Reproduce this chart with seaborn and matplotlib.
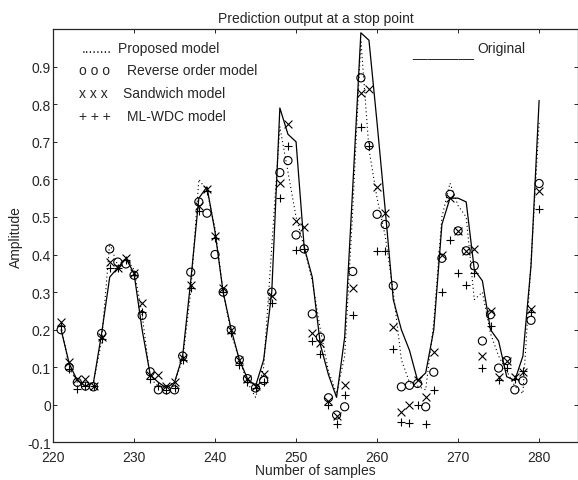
import numpy as np
import pandas as pd
import seaborn as sns
import matplotlib.pyplot as plt

# samples 221..280
samples = list(range(221, 281))

original = [0.20, 0.11, 0.065, 0.05, 0.06, 0.19, 0.34, 0.365, 0.39, 0.35,
            0.20, 0.08, 0.06, 0.045, 0.06, 0.13, 0.33, 0.55, 0.58, 0.46,
            0.30, 0.20, 0.12, 0.07, 0.05, 0.12, 0.30, 0.79, 0.72, 0.70,
            0.42, 0.34, 0.16, 0.08, 0.02, 0.18, 0.58, 0.99, 0.97, 0.75,
            0.52, 0.28, 0.20, 0.145, 0.065, 0.085, 0.20, 0.48, 0.55, 0.55,
            0.54, 0.36, 0.33, 0.20, 0.17, 0.075, 0.065, 0.13, 0.37, 0.81]

proposed = [0.21, 0.10, 0.06, 0.05, 0.06, 0.17, 0.43, 0.37, 0.39, 0.36,
            0.24, 0.07, 0.05, 0.05, 0.06, 0.12, 0.30, 0.60, 0.57, 0.47,
            0.30, 0.19, 0.12, 0.06, 0.02, 0.10, 0.42, 0.74, 0.62, 0.50,
            0.42, 0.33, 0.20, 0.09, 0.03, 0.13, 0.52, 0.97, 0.68, 0.55,
            0.45, 0.30, 0.12, 0.06, 0.05, 0.04, 0.22, 0.50, 0.59, 0.53,
            0.50, 0.28, 0.30, 0.19, 0.13, 0.09, 0.05, 0.03, 0.38, 0.75]

reverse_order = [0.20, 0.10, 0.06, 0.05, 0.048, 0.19, 0.415, 0.38, 0.375, 0.345,
                 0.238, 0.088, 0.04, 0.04, 0.04, 0.13, 0.353, 0.54, 0.51, 0.40,
                 0.30, 0.20, 0.12, 0.07, 0.045, 0.065, 0.30, 0.618, 0.65, 0.452,
                 0.415, 0.242, 0.18, 0.019, -0.027, -0.005, 0.355, 0.87, 0.69, 0.507,
                 0.48, 0.317, 0.048, 0.052, 0.057, -0.005, 0.087, 0.39, 0.56, 0.463,
                 0.41, 0.37, 0.17, 0.24, 0.098, 0.118, 0.04, 0.064, 0.225, 0.589]

sandwich = [0.22, 0.115, 0.07, 0.07, 0.05, 0.18, 0.38, 0.365, 0.39, 0.35,
            0.27, 0.08, 0.08, 0.05, 0.06, 0.125, 0.32, 0.53, 0.574, 0.45,
            0.31, 0.20, 0.12, 0.07, 0.05, 0.083, 0.29, 0.59, 0.748, 0.488,
            0.474, 0.19, 0.165, 0.01, -0.03, 0.052, 0.31, 0.83, 0.84, 0.58,
            0.51, 0.207, -0.018, 0.0, 0.066, 0.02, 0.14, 0.40, 0.55, 0.463,
            0.41, 0.415, 0.13, 0.25, 0.075, 0.118, 0.075, 0.088, 0.255, 0.57]

ml_wdc = [0.21, 0.095, 0.043, 0.05, 0.05, 0.175, 0.363, 0.365, 0.385, 0.345,
          0.247, 0.07, 0.05, 0.04, 0.045, 0.12, 0.31, 0.517, 0.57, 0.445,
          0.30, 0.19, 0.105, 0.06, 0.045, 0.06, 0.27, 0.55, 0.69, 0.413,
          0.415, 0.17, 0.135, 0.00, -0.05, 0.026, 0.24, 0.74, 0.69, 0.41,
          0.41, 0.15, -0.045, -0.048, 0.0, -0.05, 0.04, 0.30, 0.44, 0.35,
          0.32, 0.35, 0.097, 0.21, 0.065, 0.097, 0.07, 0.09, 0.247, 0.52]

df = pd.DataFrame({"sample": samples, "original": original, "proposed": proposed,
                   "reverse": reverse_order, "sandwich": sandwich, "mlwdc": ml_wdc})

sns.set_style("ticks")
plt.rcParams['font.family'] = ['Liberation Sans', 'DejaVu Sans']
plt.rcParams['xtick.direction'] = 'in'
plt.rcParams['ytick.direction'] = 'in'

fig = plt.figure(figsize=(5.78, 4.81), dpi=100)
ax = fig.add_axes([0.0917, 0.078, 0.9083, 0.8596])

sns.lineplot(data=df, x="sample", y="original", color="black", linewidth=0.9, ax=ax)
sns.lineplot(data=df, x="sample", y="proposed", color="black", linewidth=0.8,
             linestyle=(0, (1, 2.5)), ax=ax)
sns.scatterplot(data=df, x="sample", y="reverse", marker="o", s=34,
                facecolors="none", edgecolor="black", linewidth=0.8, ax=ax)
sns.scatterplot(data=df, x="sample", y="sandwich", marker="x", s=32,
                color="black", linewidth=0.8, ax=ax)
sns.scatterplot(data=df, x="sample", y="mlwdc", marker="+", s=36,
                color="black", linewidth=0.8, ax=ax)

ax.set_xlim(220, 284.8)
ax.set_ylim(-0.1, 1.0)
ax.set_xticks(np.arange(220, 281, 10))
ax.set_yticks(np.round(np.arange(-0.1, 0.95, 0.1), 1))
ax.set_yticklabels(["-0.1", "0", "0.1", "0.2", "0.3", "0.4", "0.5",
                    "0.6", "0.7", "0.8", "0.9"])
ax.tick_params(labelsize=10, length=3, width=0.7, top=True, right=True, pad=1.5)
ax.tick_params(axis="x", pad=5.5)
for s in ax.spines.values():
    s.set_linewidth(0.9)
    s.set_visible(True)

ax.set_title("Prediction output at a stop point", fontsize=10, pad=5)
ax.set_xlabel("Number of samples", fontsize=10, labelpad=-1)
ax.set_ylabel("Amplitude", fontsize=10, labelpad=3)

# text legend as in the original figure
fs = 10
ax.text(0.055, 0.955, "........", fontsize=fs, transform=ax.transAxes, va="center")
ax.text(0.124, 0.955, "Proposed model", fontsize=fs, transform=ax.transAxes, va="center")
ax.text(0.050, 0.900, "o o o", fontsize=fs, transform=ax.transAxes, va="center")
ax.text(0.141, 0.900, "Reverse order model", fontsize=fs, transform=ax.transAxes, va="center")
ax.text(0.050, 0.845, "x x x", fontsize=fs, transform=ax.transAxes, va="center")
ax.text(0.133, 0.845, "Sandwich model", fontsize=fs, transform=ax.transAxes, va="center")
ax.text(0.050, 0.789, "+ + +", fontsize=fs, transform=ax.transAxes, va="center")
ax.text(0.141, 0.789, "ML-WDC model", fontsize=fs, transform=ax.transAxes, va="center")
ax.text(0.684, 0.945, "________", fontsize=fs, transform=ax.transAxes, va="center")
ax.text(0.809, 0.955, "Original", fontsize=fs, transform=ax.transAxes, va="center")

fig.savefig("out.png", dpi=100)
